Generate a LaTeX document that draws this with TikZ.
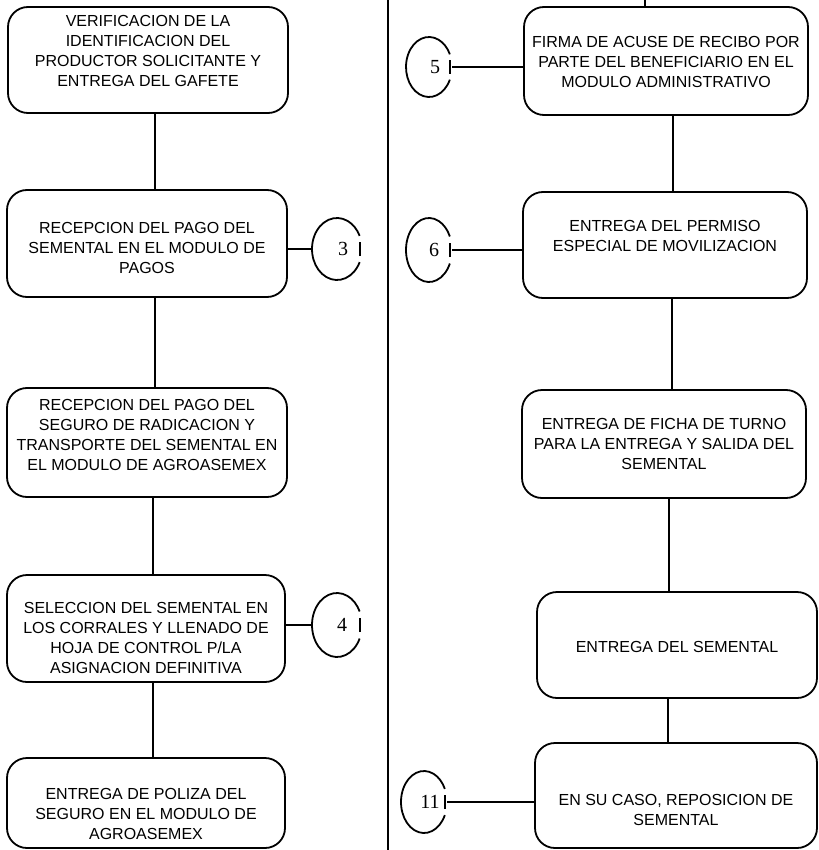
\documentclass[tikz,border=0pt]{standalone}
\usepackage{fontspec}
\setmainfont{Liberation Sans}
\newfontfamily\numfont{Liberation Serif}
\usetikzlibrary{calc,shapes.geometric}
\tikzset{
  ln/.style={line width=1.8pt},
  box/.style={draw, line width=1.8pt, rounded corners=20pt, inner sep=0pt},
  txt/.style={align=center, inner sep=0pt, font=\fontsize{16}{20}\selectfont},
  opc/.style={ellipse, draw=none, inner sep=0pt},
  num/.style={inner sep=0pt, font=\numfont\fontsize{20}{20}\selectfont},
}
\begin{document}
\begin{tikzpicture}[x=1pt,y=-1pt]
\useasboundingbox (0,0) rectangle (818,850);

% divider
\coordinate (dtop) at (388,0);
\coordinate (dbot) at (388,850);
\draw[ln] (dtop) -- (dbot);

% left column boxes
\node[box, minimum width=280pt, minimum height=106pt] (b1) at (148,60) {};
\node[txt] (t1) at (148,51) {VERIFICACION DE LA\\IDENTIFICACION DEL\\PRODUCTOR SOLICITANTE Y\\ENTREGA DEL GAFETE};

\node[box, minimum width=280pt, minimum height=107pt] (b2) at (147,243.5) {};
\node[txt] (t2) at (147,247.5) {RECEPCION DEL PAGO DEL\\SEMENTAL EN EL MODULO DE\\PAGOS};

\node[box, minimum width=280pt, minimum height=109pt] (b3) at (147,442.5) {};
\node[txt] (t3) at (147,435) {RECEPCION DEL PAGO DEL\\SEGURO DE RADICACION Y\\TRANSPORTE DEL SEMENTAL EN\\EL MODULO DE AGROASEMEX};

\node[box, minimum width=278pt, minimum height=107pt] (b4) at (146,628.5) {};
\node[txt] (t4) at (146,637.5) {SELECCION DEL SEMENTAL EN\\LOS CORRALES Y LLENADO DE\\HOJA DE CONTROL P/LA\\ASIGNACION DEFINITIVA};

\node[box, minimum width=278pt, minimum height=90pt] (b5) at (146,803) {};
\node[txt] (t5) at (146,814) {ENTREGA DE POLIZA DEL\\SEGURO EN EL MODULO DE\\AGROASEMEX};

% left connectors
\draw[ln] ([xshift=7pt]b1.south) -- ([xshift=8pt]b2.north);
\draw[ln] ([xshift=8pt]b2.south) -- ([xshift=8pt]b3.north);
\draw[ln] ([xshift=6pt]b3.south) -- ([xshift=7pt]b4.north);
\draw[ln] ([xshift=7pt]b4.south) -- ([xshift=7pt]b5.north);

% right column boxes
\coordinate (rtop) at (645,0);
\node[box, minimum width=284pt, minimum height=108pt] (r1) at (666,61) {};
\node[txt] (u1) at (666,62) {FIRMA DE ACUSE DE RECIBO POR\\PARTE DEL BENEFICIARIO EN EL\\MODULO ADMINISTRATIVO};

\node[box, minimum width=284pt, minimum height=106pt] (r2) at (665,245) {};
\node[txt] (u2) at (665,235.5) {ENTREGA DEL PERMISO\\ESPECIAL DE MOVILIZACION};

\node[box, minimum width=284pt, minimum height=108pt] (r3) at (664,444) {};
\node[txt] (u3) at (664,444) {ENTREGA DE FICHA DE TURNO\\PARA LA ENTREGA Y SALIDA DEL\\SEMENTAL};

\node[box, minimum width=280pt, minimum height=106pt] (r4) at (677,645) {};
\node[txt] (u4) at (677,647) {ENTREGA DEL SEMENTAL};

\node[box, minimum width=282pt, minimum height=105pt] (r5) at (676,795.5) {};
\node[txt] (u5) at (676,809.5) {EN SU CASO, REPOSICION DE\\SEMENTAL};

% right connectors
\draw[ln] (rtop) -- (rtop |- r1.north);
\draw[ln] ([xshift=7pt]r1.south) -- ([xshift=8pt]r2.north);
\draw[ln] ([xshift=7pt]r2.south) -- ([xshift=8pt]r3.north);
\draw[ln] ([xshift=5pt]r3.south) -- ([xshift=-8pt]r4.north);
\draw[ln] ([xshift=-9pt]r4.south) -- ([xshift=-8pt]r5.north);

% off-page connectors
\node[opc, minimum width=50pt, minimum height=62pt] (c3) at (337,249) {};
\node[num] (n3) at (343,249) {3};
\node[opc, minimum width=50pt, minimum height=64pt] (c4) at (337,625) {};
\node[num] (n4) at (342,625) {4};
\node[opc, minimum width=46pt, minimum height=60pt] (c5) at (429,67) {};
\node[num] (n5) at (435,67) {5};
\node[opc, minimum width=46pt, minimum height=64pt] (c6) at (429,250) {};
\node[num] (n6) at (434,250) {6};
\node[opc, minimum width=46pt, minimum height=62pt] (c11) at (424,802) {};
\node[num] (n11) at (430,802) {11};

\foreach \c/\rx/\ry in {c3/25/31, c4/25/32, c5/23/30, c6/23/32, c11/23/31}{
  \draw[ln] ($(\c.center)+({cos(25)*\rx},{sin(25)*\ry})$) arc[start angle=25, end angle=335, x radius=\rx, y radius=\ry];
  \draw[ln] ($(\c.center)+({0.92*\rx},7)$) -- ($(\c.center)+({0.92*\rx},-7)$);
}

\draw[ln] (b2.east |- c3.west) -- (c3.west);
\draw[ln] (b4.east |- c4.west) -- (c4.west);
\draw[ln] (c5.east) -- (c5.east -| r1.west);
\draw[ln] (c6.east) -- (c6.east -| r2.west);
\draw[ln] (c11.east) -- (c11.east -| r5.west);
\end{tikzpicture}
\end{document}
